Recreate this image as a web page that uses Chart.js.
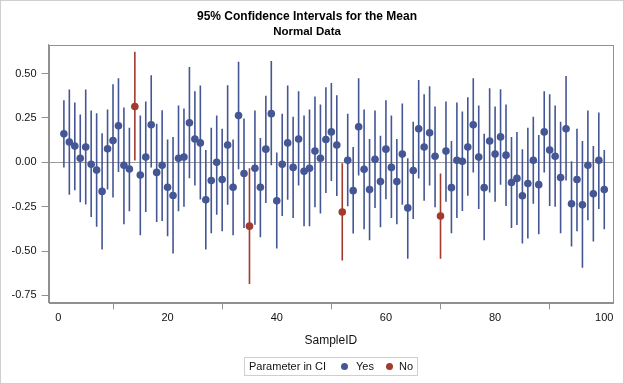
<!DOCTYPE html>
<html>
<head>
<meta charset="utf-8">
<script src="https://cdn.jsdelivr.net/npm/chart.js@4.4.1/dist/chart.umd.min.js"></script>
<style>
  body { margin: 0; background: #fff; }
  #frame {
    position: relative;
    width: 624px;
    height: 384px;
    box-sizing: border-box;
    border: 1px solid #cfcfcf;
    background: #fff;
    font-family: "Liberation Sans", Arial, sans-serif;
  }
  #ciChart { position: absolute; left: 0; top: 0; }
  #legendBox {
    position: absolute;
    left: 243px;
    top: 356px;
    width: 174px;
    height: 19px;
    box-sizing: border-box;
    border: 1px solid #cfcfcf;
    font-size: 11px;
    color: #111;
  }
  #legendBox span { position: absolute; top: 2px; white-space: nowrap; }
  #legendBox .dot {
    width: 7px; height: 7px; border-radius: 50%; top: 5px;
  }
</style>
</head>
<body>
<div id="frame">
  <canvas id="ciChart" width="622" height="382"></canvas>
  <div id="legendBox">
    <span style="left:4px">Parameter in CI</span>
    <span class="dot" style="left:96px;background:#445694"></span>
    <span style="left:111px">Yes</span>
    <span class="dot" style="left:141px;background:#A23A2E"></span>
    <span style="left:154px">No</span>
  </div>
</div>

<script>
// DATA

const sampleIds = [
  1, 2, 3, 4, 5, 6, 7, 8, 9, 10,
  11, 12, 13, 14, 15, 16, 17, 18, 19, 20,
  21, 22, 23, 24, 25, 26, 27, 28, 29, 30,
  31, 32, 33, 34, 35, 36, 37, 38, 39, 40,
  41, 42, 43, 44, 45, 46, 47, 48, 49, 50,
  51, 52, 53, 54, 55, 56, 57, 58, 59, 60,
  61, 62, 63, 64, 65, 66, 67, 68, 69, 70,
  71, 72, 73, 74, 75, 76, 77, 78, 79, 80,
  81, 82, 83, 84, 85, 86, 87, 88, 89, 90,
  91, 92, 93, 94, 95, 96, 97, 98, 99, 100
];

const sampleMeans = [
  0.160, 0.114, 0.091, 0.023, 0.086, -0.011, -0.044, -0.164, 0.076, 0.122,
  0.206, -0.017, -0.038, 0.314, -0.072, 0.029, 0.211, -0.057, -0.017, -0.141,
  -0.187, 0.023, 0.029, 0.223, 0.131, 0.109, -0.211, -0.103, 0.000, -0.097,
  0.097, -0.141, 0.263, -0.063, -0.360, -0.034, -0.141, 0.074, 0.274, -0.217,
  -0.011, 0.109, -0.029, 0.131, -0.051, -0.034, 0.063, 0.023, 0.128, 0.171,
  0.097, -0.280, 0.011, -0.160, 0.200, -0.040, -0.154, 0.017, -0.109, 0.074,
  -0.029, -0.109, 0.046, -0.257, -0.046, 0.189, 0.086, 0.166, 0.034, -0.303,
  0.063, -0.143, 0.011, 0.006, 0.086, 0.211, 0.029, -0.143, 0.120, 0.046,
  0.143, 0.040, -0.114, -0.091, -0.189, -0.120, 0.011, -0.126, 0.171, 0.069,
  0.034, -0.086, 0.189, -0.234, -0.097, -0.240, -0.017, -0.177, 0.011, -0.154
];

const lowerCL = [
  -0.030, -0.183, -0.158, -0.225, -0.238, -0.309, -0.364, -0.491, -0.154, -0.198,
  -0.055, -0.349, -0.276, 0.010, -0.411, -0.280, -0.030, -0.337, -0.331, -0.417,
  -0.514, -0.276, -0.251, -0.090, -0.131, -0.210, -0.491, -0.400, -0.295, -0.389,
  -0.240, -0.411, -0.040, -0.371, -0.686, -0.352, -0.423, -0.230, -0.017, -0.486,
  -0.303, -0.211, -0.314, -0.131, -0.360, -0.360, -0.253, -0.288, -0.173, -0.105,
  -0.190, -0.554, -0.248, -0.402, -0.074, -0.377, -0.440, -0.257, -0.366, -0.208,
  -0.314, -0.349, -0.240, -0.543, -0.320, -0.091, -0.217, -0.131, -0.253, -0.543,
  -0.223, -0.400, -0.314, -0.274, -0.189, -0.057, -0.263, -0.440, -0.171, -0.223,
  -0.126, -0.246, -0.371, -0.354, -0.457, -0.429, -0.234, -0.406, -0.057, -0.246,
  -0.251, -0.400, -0.103, -0.474, -0.389, -0.594, -0.326, -0.446, -0.263, -0.377
];

const upperCL = [
  0.350, 0.410, 0.337, 0.269, 0.410, 0.291, 0.276, 0.164, 0.297, 0.440,
  0.474, 0.309, 0.194, 0.623, 0.263, 0.343, 0.491, 0.217, 0.293, 0.128,
  0.143, 0.320, 0.303, 0.537, 0.400, 0.432, 0.069, 0.194, 0.263, 0.189,
  0.434, 0.128, 0.566, 0.246, -0.034, 0.291, 0.137, 0.375, 0.571, 0.055,
  0.274, 0.432, 0.257, 0.400, 0.263, 0.297, 0.371, 0.326, 0.423, 0.446,
  0.377, -0.006, 0.274, 0.086, 0.474, 0.297, 0.131, 0.291, 0.149, 0.349,
  0.263, 0.131, 0.331, 0.023, 0.229, 0.463, 0.383, 0.429, 0.314, -0.063,
  0.343, 0.120, 0.337, 0.286, 0.366, 0.474, 0.320, 0.160, 0.417, 0.314,
  0.411, 0.326, 0.143, 0.171, 0.074, 0.194, 0.257, 0.154, 0.400, 0.383,
  0.320, 0.229, 0.486, 0.006, 0.189, 0.120, 0.291, 0.091, 0.280, 0.069
];

// samples whose interval misses the true mean (Parameter in CI = No)
const missedIds = [14, 35, 52, 70];

const xTicks = [0, 20, 40, 60, 80, 100];

const yesColor = "#445694";
const noColor = "#A23A2E";



// SPLIT INTO YES / NO

const yesPoints = [];
const noPoints = [];
const yesBars = [];
const noBars = [];

sampleIds.forEach((id, i) => {

  const point = { x: id, y: sampleMeans[i] };
  const bar = { x: id, y: [lowerCL[i], upperCL[i]] };

  if (missedIds.includes(id)) {
    noPoints.push(point);
    noBars.push(bar);
  } else {
    yesPoints.push(point);
    yesBars.push(bar);
  }

});



// PLOT FRAME

const frameBox = {
  id: "frameBox",
  afterDatasetsDraw(chart) {
    const { ctx, chartArea } = chart;
    ctx.save();
    ctx.strokeStyle = "#909090";
    ctx.lineWidth = 1;
    ctx.strokeRect(
      Math.round(chartArea.left) + 0.5,
      Math.round(chartArea.top) + 0.5,
      Math.round(chartArea.right - chartArea.left),
      Math.round(chartArea.bottom - chartArea.top)
    );
    ctx.restore();
  }
};



// CHART

const fontFamily = "'Liberation Sans', Arial, sans-serif";

const ciBar = {
  type: "bar",
  barThickness: 1.6,
  inflateAmount: 0,
  grouped: false,
  borderWidth: 0,
  order: 1
};

new Chart(document.getElementById("ciChart"), {

  type: "scatter",

  data: {
    datasets: [
      {
        type: "scatter",
        label: "Yes",
        data: yesPoints,
        backgroundColor: yesColor,
        borderWidth: 0,
        pointRadius: 3.8,
        order: 0
      },
      {
        type: "scatter",
        label: "No",
        data: noPoints,
        backgroundColor: noColor,
        borderWidth: 0,
        pointRadius: 3.8,
        order: 0
      },
      { ...ciBar, label: "Yes CI", data: yesBars, backgroundColor: yesColor },
      { ...ciBar, label: "No CI", data: noBars, backgroundColor: noColor }
    ]
  },

  options: {

    responsive: false,
    animation: false,

    layout: {
      padding: { left: 0, right: 10, top: 0, bottom: 34.8 }
    },

    plugins: {

      legend: { display: false },
      tooltip: { enabled: false },

      title: {
        display: true,
        text: "95% Confidence Intervals for the Mean",
        color: "#000",
        font: { family: fontFamily, size: 12, weight: "bold" },
        padding: { top: 8, bottom: 1 }
      },

      subtitle: {
        display: true,
        text: "Normal Data",
        color: "#000",
        font: { family: fontFamily, size: 11.5, weight: "bold" },
        padding: { top: 1, bottom: 5.4 }
      }

    },

    scales: {

      x: {
        type: "linear",
        min: -1.8,
        max: 101.6,
        offset: false,
        afterBuildTicks(scale) {
          scale.ticks = xTicks.map(v => ({ value: v }));
        },
        afterFit(scale) {
          scale.height = 45.9;
        },
        ticks: {
          color: "#111",
          font: { family: fontFamily, size: 11 },
          padding: 2,
          maxRotation: 0
        },
        grid: {
          display: true,
          drawOnChartArea: false,
          drawTicks: true,
          tickLength: 7,
          tickColor: "#909090"
        },
        border: { color: "#909090" },
        title: {
          display: true,
          text: "SampleID",
          color: "#111",
          font: { family: fontFamily, size: 12 },
          padding: { top: 8, bottom: 0 }
        }
      },

      y: {
        min: -0.789,
        max: 0.663,
        afterFit(scale) {
          scale.width = 47.6;
        },
        ticks: {
          stepSize: 0.25,
          includeBounds: false,
          color: "#111",
          font: { family: fontFamily, size: 11 },
          padding: 5,
          callback: value => Number(value).toFixed(2)
        },
        grid: {
          color: ctx => (ctx.tick && Math.abs(ctx.tick.value) < 1e-9) ? "#9a9a9a" : "rgba(0,0,0,0)",
          lineWidth: 1,
          drawTicks: true,
          tickLength: 7,
          tickColor: "#909090"
        },
        border: { color: "#909090" }
      }

    }

  },

  plugins: [frameBox]

});
</script>
</body>
</html>
